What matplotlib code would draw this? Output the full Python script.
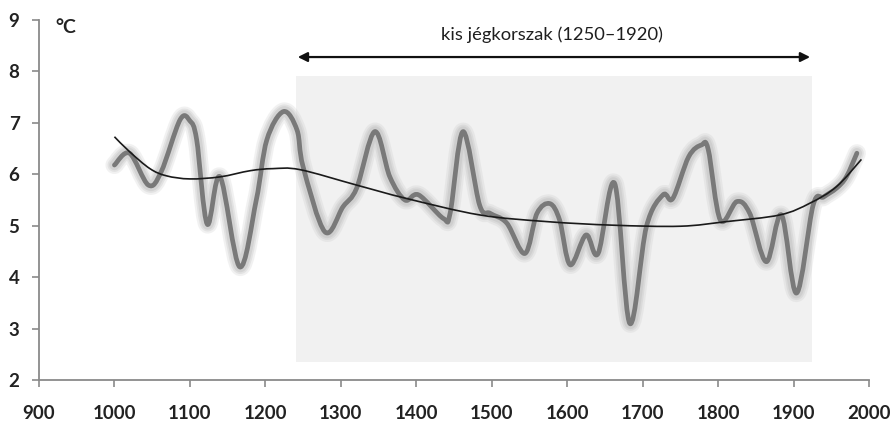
import numpy as np
import matplotlib
matplotlib.use("Agg")
import matplotlib.pyplot as plt
from matplotlib.path import Path
from matplotlib.patches import PathPatch, Rectangle

# ---- data ----
years = [1000, 1020, 1045, 1062, 1087, 1100, 1109, 1123, 1140, 1166, 1188, 1202,
         1224, 1242, 1250, 1279, 1303, 1321, 1345, 1365, 1385, 1403, 1436, 1445,
         1462, 1484, 1498, 1520, 1544, 1560, 1577, 1590, 1604, 1625, 1641, 1663,
         1683, 1705, 1727, 1740, 1761, 1778, 1787, 1803, 1825, 1842, 1864, 1884,
         1904, 1926, 1940, 1957, 1970, 1984]
temps = [6.18, 6.41, 5.79, 6.05, 7.06, 7.04, 6.67, 5.03, 5.95, 4.20, 5.50, 6.67,
         7.22, 6.86, 6.15, 4.88, 5.37, 5.73, 6.83, 5.95, 5.50, 5.60, 5.14, 5.25,
         6.83, 5.40, 5.24, 5.05, 4.46, 5.24, 5.43, 5.11, 4.24, 4.82, 4.46, 5.82,
         3.10, 4.98, 5.60, 5.53, 6.34, 6.57, 6.48, 5.11, 5.47, 5.24, 4.30, 5.21,
         3.69, 5.40, 5.56, 5.73, 5.95, 6.41]

trend_years = [1000, 1020, 1047, 1069, 1100, 1140, 1180, 1210, 1246, 1321, 1387,
               1484, 1573, 1661, 1750, 1811, 1882, 1922, 1957, 1990]
trend_temps = [6.73, 6.44, 6.11, 5.97, 5.91, 5.95, 6.07, 6.11, 6.09, 5.79, 5.53,
               5.21, 5.08, 5.01, 4.99, 5.08, 5.21, 5.44, 5.76, 6.29]

period_start, period_end = 1240, 1925
period_label = "kis jégkorszak (1250–1920)"
unit_label = "°C"
x_ticks = list(range(900, 2001, 100))
y_ticks = list(range(2, 10))


def smooth_path(xs, ys):
    """Catmull-Rom style smoothed line expressed as cubic Bezier path."""
    p = np.column_stack([xs, ys]).astype(float)
    n = len(p)
    verts = [p[0]]
    codes = [Path.MOVETO]
    for i in range(n - 1):
        p0 = p[i - 1] if i > 0 else p[i]
        p1 = p[i]
        p2 = p[i + 1]
        p3 = p[i + 2] if i + 2 < n else p[i + 1]
        c1 = p1 + (p2 - p0) / 6.0
        c2 = p2 - (p3 - p1) / 6.0
        verts += [c1, c2, p2]
        codes += [Path.CURVE4] * 3
    return Path(verts, codes)


fig = plt.figure(figsize=(8.94, 4.24), dpi=100)
ax = fig.add_axes([0.0436, 0.1038, 0.9284, 0.849])
ax.set_xlim(900, 2000)
ax.set_ylim(2, 9)

# shaded period
ax.add_patch(Rectangle((period_start, 2.35), period_end - period_start, 7.92 - 2.35,
                       facecolor="#f1f1f1", edgecolor="none", zorder=0))

# main series with glow
path = smooth_path(years, temps)
for lw, a in [(13, 0.2), (10, 0.28), (7.5, 0.38)]:
    ax.add_patch(PathPatch(path, facecolor="none", edgecolor="#bdbdbd", lw=lw,
                           alpha=a, capstyle="round", joinstyle="round", zorder=2))
ax.add_patch(PathPatch(path, facecolor="none", edgecolor="#797979", lw=3.4,
                       capstyle="round", joinstyle="round", zorder=3))

# trend line
tpath = smooth_path(trend_years, trend_temps)
ax.add_patch(PathPatch(tpath, facecolor="none", edgecolor="#1a1a1a", lw=1.2, zorder=4))

# arrow and label
ax.annotate("", xy=(1922, 8.28), xytext=(1243, 8.28),
            arrowprops=dict(arrowstyle="<|-|>", color="#111111", lw=1.6,
                            mutation_scale=14, shrinkA=0, shrinkB=0))
ax.text(1580, 8.72, period_label, ha="center", va="center", fontsize=13.2,
        family="Lato", color="#1e1e1e")
ax.text(922, 8.86, unit_label, ha="left", va="center", fontsize=14,
        family="Lato", fontweight="bold", color="#222222")

for s in ["top", "right"]:
    ax.spines[s].set_visible(False)
for s in ["left", "bottom"]:
    ax.spines[s].set_color("#8a8a8a")
    ax.spines[s].set_linewidth(1.3)

ax.set_xticks(x_ticks)
ax.set_yticks(y_ticks)
ax.tick_params(axis="both", direction="out", length=5, width=1.2, color="#8a8a8a",
               labelsize=13.5, labelcolor="#222222")
ax.tick_params(axis="x", pad=13)
ax.tick_params(axis="y", pad=9)
for lab in ax.get_xticklabels() + ax.get_yticklabels():
    lab.set_family("Lato")
    lab.set_fontweight("bold")

fig.savefig("out.png", dpi=100, facecolor="white")
